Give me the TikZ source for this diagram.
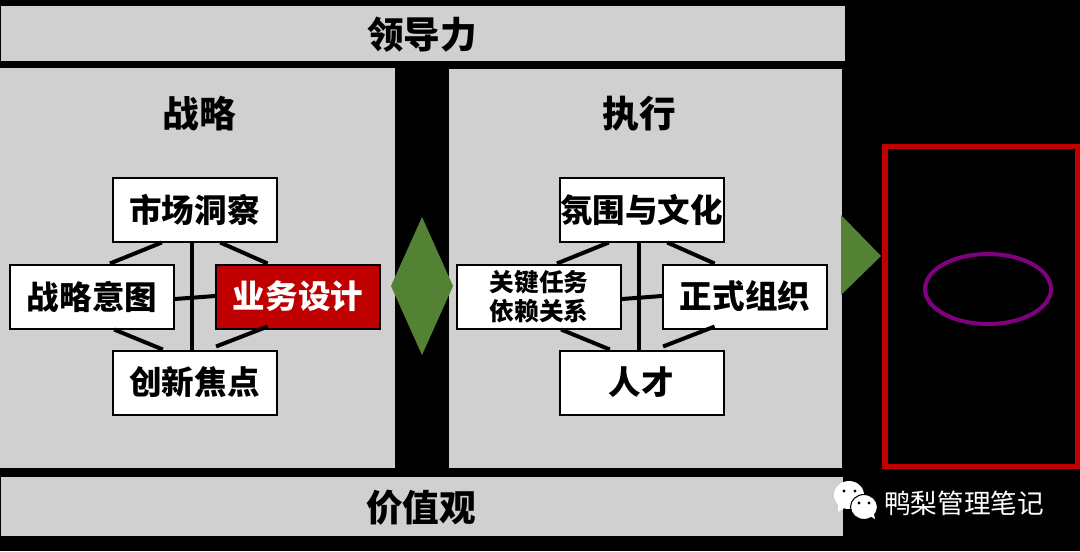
\documentclass[tikz,border=0pt]{standalone}
\usepackage{fontspec}
\setmainfont{Noto Sans CJK SC}
\usetikzlibrary{calc}
\definecolor{panelgrey}{HTML}{D0D0D0}
\definecolor{arrowgreen}{HTML}{548235}
\definecolor{deepred}{HTML}{C00000}
\definecolor{ringpurple}{HTML}{800080}
\tikzset{
  panel/.style={fill=panelgrey,draw=none,inner sep=0pt,anchor=center},
  headline/.style={font=\fontsize{27.5pt}{30pt}\selectfont\bfseries,text=black,inner sep=0pt},
  itembox/.style={draw=black,line width=1.5pt,fill=white,minimum width=123pt,minimum height=48pt,inner sep=0pt,
     font=\fontsize{24.4pt}{27pt}\selectfont\bfseries,text=black},
  hotbox/.style={itembox,fill=deepred,text=white},
  smallbox/.style={itembox,font=\fontsize{18.5pt}{21pt}\selectfont\bfseries,align=center},
  link/.style={draw=black,line width=3pt},
}
\newcommand{\fourlinks}[4]{%
  \draw[link] ($(#1.south west)!0.303!(#1.south east)$) -- ($(#2.north west)!0.608!(#2.north east)$);
  \draw[link] ($(#1.south west)!0.655!(#1.south east)$) -- ($(#3.north west)!0.317!(#3.north east)$);
  \draw[link] ($(#2.south west)!0.633!(#2.south east)$) -- ($(#4.north west)!0.309!(#4.north east)$);
  \draw[link] ($(#3.south west)!0.317!(#3.south east)+(0,-3)$) -- ($(#4.north west)!0.63!(#4.north east)+(0,-3)$);
  \draw[link] ($(#1.south west)!0.485!(#1.south east)$) -- ($(#4.north west)!0.485!(#4.north east)$);
  \draw[link] ($(#2.east)+(0,2.5)$) -- ($(#3.west)+(0,-0.5)$);
}
\begin{document}
\begin{tikzpicture}[x=0.75pt,y=-0.75pt]
\useasboundingbox (0,0) rectangle (1080,551);
\fill[black] (0,0) rectangle (1080,551);
% bars and panels
\fill[panelgrey] (1,6) rectangle (845,61);
\fill[panelgrey] (0,68) rectangle (395,468);
\fill[panelgrey] (449,69) rectangle (842,468);
\fill[panelgrey] (1,477) rectangle (843,536);
\node[headline] (leadtxt) at (422,35) {领导力};
\node[headline] (valtxt) at (421,508) {价值观};
\node[headline] (strattxt) at (199,114) {战略};
\node[headline] (exectxt) at (639,114) {执行};
% strategy group
\node[itembox] (st) at (194.5,209.5) {市场洞察};
\node[itembox] (sl) at (92,296.5) {战略意图};
\node[hotbox] (sr) at (298,296.5) {业务设计};
\node[itembox] (sb) at (194.5,382.5) {创新焦点};
\fourlinks{st}{sl}{sr}{sb}
% execution group
\node[itembox] (et) at (641.5,209.5) {氛围与文化};
\node[smallbox] (el) at (539,296.5) {关键任务\\[1pt]依赖关系};
\node[itembox] (er) at (745,296.5) {正式组织};
\node[itembox] (eb) at (641.5,382.5) {人才};
\fourlinks{et}{el}{er}{eb}
% green shapes
\fill[arrowgreen] (391,286) -- (422,217) -- (453,286) -- (422,355) -- cycle;
\fill[arrowgreen] (841,215) -- (881,256) -- (841,295) -- cycle;
% result frame
\draw[deepred,line width=4pt] (885,146.5) rectangle (1077.5,466.5);
\draw[ringpurple,line width=3pt] (988,289) ellipse [x radius=63,y radius=35];
% wechat mark
\fill[white] (849,495) ellipse [x radius=15,y radius=14];
\fill[white] (838,505) -- (838,512) -- (846,507) -- cycle;
\fill[black] (844,491) circle (1.7) (855,491) circle (1.7);
\filldraw[white,draw=black,line width=0.8pt] (864,507) ellipse [x radius=13.5,y radius=12.5];
\fill[white] (868,515) -- (875,519) -- (873,510) -- cycle;
\fill[black] (859,503) circle (1.6) (869,503) circle (1.6);
\node[text=white,inner sep=0pt,font=\fontsize{20pt}{22pt}\selectfont] (mark) at (964,503) {鸭梨管理笔记};
\end{tikzpicture}
\end{document}
